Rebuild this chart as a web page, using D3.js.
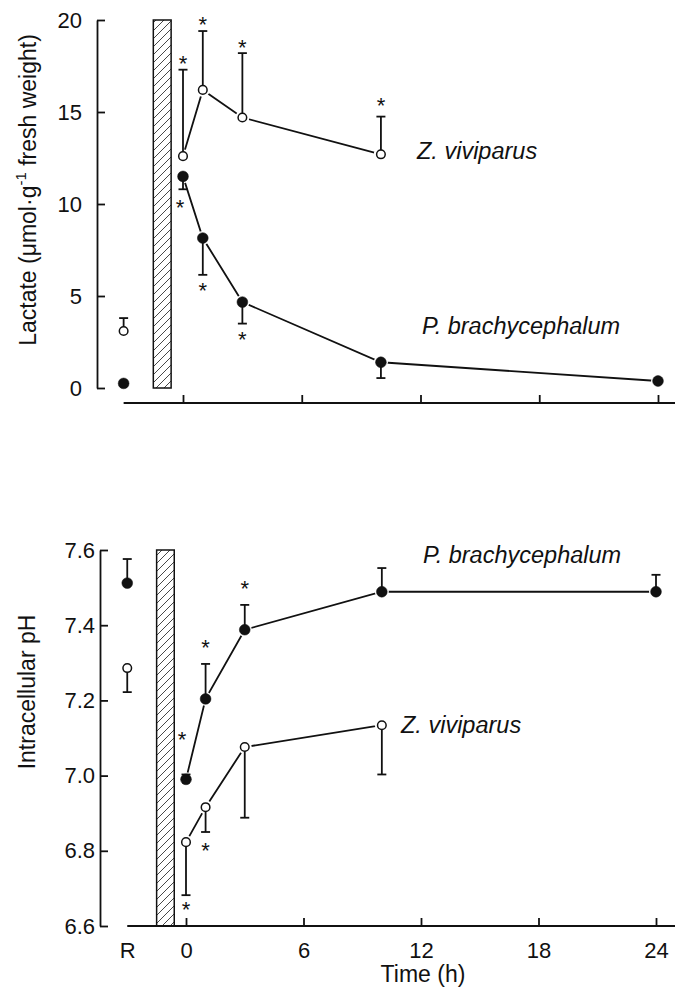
<!DOCTYPE html>
<html>
<head>
<meta charset="utf-8">
<script src="https://cdn.jsdelivr.net/npm/d3@7"></script>
<style>
  body { margin: 0; background: #fff; }
  text { font-family: "Liberation Sans", Arial, Helvetica, sans-serif; fill: #111; }
</style>
</head>
<body>
<svg id="chart" width="675" height="988"></svg>
<script>
// sampling times (h) after the exposure, "R" is the resting value
const times = [0, 1, 3, 10, 24];
const xTickValues = [0, 6, 12, 18, 24];
const REST = -3;            // where the "R" column sits on the time axis
const exposure = [-1.5, -0.6]; // hatched bar

// lactate (umol g-1 fresh weight)
const lactTicks = [0, 5, 10, 15, 20];
const lactZRest = 3.1, lactZRestErr = 0.7;
const lactZ = [12.6, 16.2, 14.7, 12.7];
const lactZErr = [4.7, 3.2, 3.5, 2.05];
const lactPRest = 0.25, lactPRestErr = 0;
const lactP = [11.5, 8.15, 4.67, 1.4, 0.38];
const lactPErr = [0.7, 2.0, 1.17, 0.86, 0];
const lactStarsZ = [[0, 17.9], [1, 20.05], [3, 18.8], [10, 15.65]];
const lactStarsP = [[-0.15, 10.1], [1, 5.6], [3, 2.9]];

// intracellular pH
const phTicks = [6.6, 6.8, 7.0, 7.2, 7.4, 7.6];
const phPRest = 7.512, phPRestErr = 0.064;
const phP = [6.99, 7.204, 7.388, 7.489, 7.489];
const phPErr = [0.013, 0.093, 0.066, 0.063, 0.045];
const phZRest = 7.286, phZRestErr = 0.064;
const phZ = [6.823, 6.916, 7.076, 7.134];
const phZErr = [0.141, 0.066, 0.188, 0.131];
const phStarsP = [[-0.2, 7.11], [1, 7.353], [3, 7.51]];
const phStarsZ = [[0, 6.656], [1, 6.815]];

const svg = d3.select("#chart");
const W = 675;
const ink = "#111";
const lw = 1.8;

svg.append("defs").append("pattern")
   .attr("id", "hatch")
   .attr("patternUnits", "userSpaceOnUse")
   .attr("width", 8).attr("height", 8)
   .append("path")
   .attr("d", "M-2,2 l4,-4 M0,8 l8,-8 M6,10 l4,-4")
   .attr("stroke", "#333").attr("stroke-width", 0.9);

function panel(cfg) {
    const x = cfg.x, y = cfg.y;
    const g = svg.append("g");

    // hatched exposure bar
    g.append("rect")
     .attr("x", x(exposure[0]))
     .attr("y", y.range()[1])
     .attr("width", x(exposure[1]) - x(exposure[0]))
     .attr("height", y.range()[0] - y.range()[1])
     .attr("fill", "url(#hatch)")
     .attr("stroke", ink).attr("stroke-width", 1.5);

    // y axis, ticks point inward
    const ya = g.append("g")
     .attr("transform", `translate(${cfg.axisX},0)`)
     .call(d3.axisLeft(y).tickValues(cfg.yTicks).tickSize(-8).tickSizeOuter(0)
             .tickPadding(cfg.pad).tickFormat(cfg.fmt));
    ya.selectAll("path,line").attr("stroke", ink).attr("stroke-width", lw);
    ya.selectAll("text").attr("font-size", 22).attr("fill", ink);

    // x axis
    const xa = g.append("g")
     .attr("transform", `translate(0,${cfg.xAxisY})`)
     .call(d3.axisBottom(x).tickValues(cfg.labels ? [REST].concat(xTickValues) : xTickValues)
             .tickSize(-8).tickSizeOuter(0).tickPadding(16)
             .tickFormat(d => cfg.labels ? (d === REST ? "R" : d) : ""));
    xa.select(".domain").remove();
    xa.selectAll(".tick").filter(d => d === REST).select("line").remove();
    xa.selectAll("line").attr("stroke", ink).attr("stroke-width", lw);
    xa.selectAll("text").attr("font-size", 22).attr("fill", ink);
    g.append("line")
     .attr("x1", x(REST)).attr("x2", W)
     .attr("y1", cfg.xAxisY).attr("y2", cfg.xAxisY)
     .attr("stroke", ink).attr("stroke-width", lw);

    const line = d3.line().x(d => x(d.t)).y(d => y(d.v));

    cfg.series.forEach(s => {
        const pts = s.vals.map((v, i) => ({ t: times[i], v: v, e: s.errs[i] }));
        pts.unshift({ t: REST, v: s.rest, e: s.restErr });
        const joined = pts.filter(p => p.t !== REST);

        g.append("path")
         .datum(joined)
         .attr("d", line)
         .attr("fill", "none")
         .attr("stroke", ink).attr("stroke-width", lw);

        // white halo so the joining line stops short of each marker
        g.selectAll(null).data(pts).enter().append("circle")
         .attr("cx", d => x(d.t)).attr("cy", d => y(d.v))
         .attr("r", 7).attr("fill", "#fff");

        const bars = pts.filter(p => p.e > 0);
        g.selectAll(null).data(bars).enter().append("line")
         .attr("x1", d => x(d.t)).attr("x2", d => x(d.t))
         .attr("y1", d => y(d.v)).attr("y2", d => y(d.v + s.dir * d.e))
         .attr("stroke", ink).attr("stroke-width", lw);
        g.selectAll(null).data(bars).enter().append("line")
         .attr("x1", d => x(d.t) - 4.5).attr("x2", d => x(d.t) + 4.5)
         .attr("y1", d => y(d.v + s.dir * d.e)).attr("y2", d => y(d.v + s.dir * d.e))
         .attr("stroke", ink).attr("stroke-width", lw);

        g.selectAll(null).data(pts).enter().append("circle")
         .attr("cx", d => x(d.t)).attr("cy", d => y(d.v))
         .attr("r", s.open ? 4.3 : 5.4)
         .attr("fill", s.open ? "#fff" : ink)
         .attr("stroke", ink).attr("stroke-width", s.open ? 1.5 : 0.5);

        g.selectAll(null).data(s.stars).enter().append("text")
         .attr("x", d => x(d[0])).attr("y", d => y(d[1]))
         .attr("dy", "0.57em")
         .attr("text-anchor", "middle")
         .attr("font-size", 22)
         .text("*");
    });

    cfg.names.forEach(n => {
        g.append("text")
         .attr("x", n.x).attr("y", n.y)
         .attr("font-size", 23.5).attr("font-style", "italic")
         .text(n.text);
    });
}

// top panel: lactate
const xTop = d3.scaleLinear().domain([0, 24]).range([183, 658]);
const yTop = d3.scaleLinear().domain([0, 20]).range([388, 20]);
panel({
    x: xTop, y: yTop, axisX: 97, pad: 15, xAxisY: 403, labels: false,
    yTicks: lactTicks, fmt: d3.format("d"),
    series: [
        { rest: lactZRest, restErr: lactZRestErr, vals: lactZ, errs: lactZErr, dir: 1, open: true, stars: lactStarsZ },
        { rest: lactPRest, restErr: lactPRestErr, vals: lactP, errs: lactPErr, dir: -1, open: false, stars: lactStarsP }
    ],
    names: [
        { text: "Z. viviparus", x: 417, y: 159 },
        { text: "P. brachycephalum", x: 422, y: 334 }
    ]
});

// bottom panel: intracellular pH
const xBot = d3.scaleLinear().domain([0, 24]).range([186, 656]);
const yBot = d3.scaleLinear().domain([6.6, 7.6]).range([926, 550]);
panel({
    x: xBot, y: yBot, axisX: 100, pad: 5, xAxisY: 926, labels: true,
    yTicks: phTicks, fmt: d3.format(".1f"),
    series: [
        { rest: phPRest, restErr: phPRestErr, vals: phP, errs: phPErr, dir: 1, open: false, stars: phStarsP },
        { rest: phZRest, restErr: phZRestErr, vals: phZ, errs: phZErr, dir: -1, open: true, stars: phStarsZ }
    ],
    names: [
        { text: "P. brachycephalum", x: 423, y: 563 },
        { text: "Z. viviparus", x: 401, y: 733 }
    ]
});

// axis titles
const t1 = svg.append("text")
   .attr("transform", "translate(36,190) rotate(-90)")
   .attr("text-anchor", "middle")
   .attr("font-size", 23);
t1.append("tspan").text("Lactate (\u03bcmol\u00b7g");
t1.append("tspan").attr("font-size", 15).attr("dy", -10).text("-1");
t1.append("tspan").attr("dy", 10).text(" fresh weight)");

svg.append("text")
   .attr("transform", "translate(35,692) rotate(-90)")
   .attr("text-anchor", "middle")
   .attr("font-size", 23)
   .text("Intracellular pH");

svg.append("text")
   .attr("x", 423).attr("y", 982)
   .attr("text-anchor", "middle")
   .attr("font-size", 23)
   .text("Time (h)");
</script>
</body>
</html>
